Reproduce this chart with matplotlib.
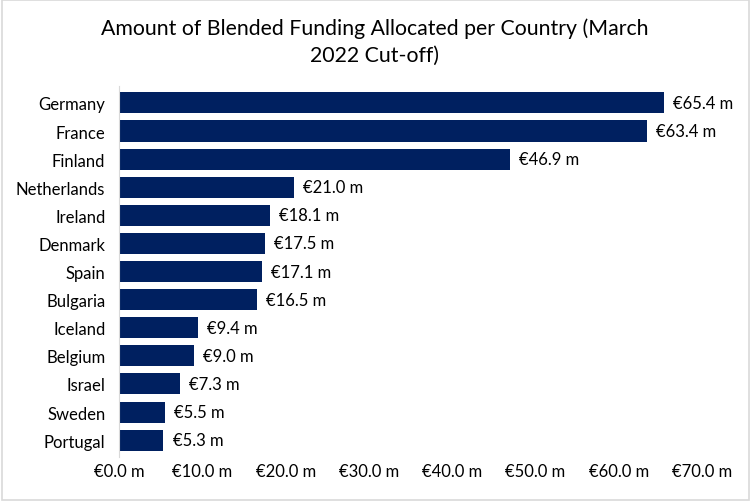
import matplotlib.pyplot as plt
from matplotlib.ticker import FuncFormatter

plt.rcParams['font.family'] = ['Lato', 'DejaVu Sans']

countries = ['Germany', 'France', 'Finland', 'Netherlands', 'Ireland', 'Denmark', 'Spain',
             'Bulgaria', 'Iceland', 'Belgium', 'Israel', 'Sweden', 'Portugal']
funding = [65.4, 63.4, 46.9, 21.0, 18.1, 17.5, 17.1, 16.5, 9.4, 9.0, 7.3, 5.5, 5.3]
xticks = [0, 10, 20, 30, 40, 50, 60, 70]

bar_color = '#002060'

fig = plt.figure(figsize=(7.5, 5.02), dpi=100)
ax = fig.add_axes([0.159, 0.0876, 0.777, 0.739])

pos = list(range(len(countries)))
ax.barh(pos, funding, height=0.75, color=bar_color)
ax.invert_yaxis()
ax.set_ylim(len(countries) - 0.4, -0.6)

for p, v in zip(pos, funding):
    ax.text(v + 1.1, p, '€%.1f m' % v, va='center', ha='left', fontsize=12, color='black')

ax.set_xlim(0, 70)
ax.set_xticks(xticks)
ax.xaxis.set_major_formatter(FuncFormatter(lambda x, _: '€%.1f m' % x))
ax.set_yticks(pos)
ax.set_yticklabels(countries)
ax.tick_params(axis='both', length=0, labelsize=12, colors='black')
ax.tick_params(axis='y', pad=10)
ax.tick_params(axis='x', pad=4)

for s in ['top', 'right', 'bottom']:
    ax.spines[s].set_visible(False)
ax.spines['left'].set_color('#d9d9d9')
ax.spines['left'].set_linewidth(0.8)

fig.text(0.5, 0.964, 'Amount of Blended Funding Allocated per Country (March\n2022 Cut-off)',
         ha='center', va='top', fontsize=15.3, linespacing=1.45)

fig.patches.append(plt.Rectangle((0.002, 0.002), 0.996, 0.996, transform=fig.transFigure,
                                 fill=False, edgecolor='#d9d9d9', linewidth=1.2))

fig.savefig('out.png', dpi=100, facecolor='white')
